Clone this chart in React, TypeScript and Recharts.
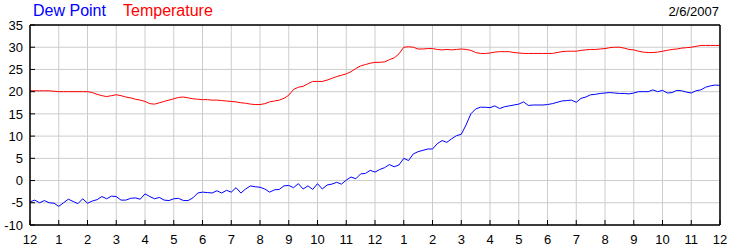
import { LineChart, Line, XAxis, YAxis, CartesianGrid } from "recharts";

// readings every 10 minutes, midnight to midnight
const temperature = [
  20.2, 20.2, 20.2, 20.2, 20.2, 20.1,
  20.0, 20.0, 20.0, 20.0, 20.0, 20.0,
  20.0, 19.8, 19.4, 19.1, 18.9, 19.1,
  19.3, 19.1, 18.8, 18.6, 18.3, 18.1,
  17.8, 17.3, 17.2, 17.5, 17.8, 18.1,
  18.4, 18.7, 18.8, 18.6, 18.4, 18.3,
  18.2, 18.2, 18.1, 18.1, 18.0, 17.9,
  17.8, 17.7, 17.5, 17.4, 17.2, 17.1,
  17.1, 17.3, 17.7, 17.9, 18.1, 18.5,
  19.2, 20.5, 21.0, 21.2, 21.8, 22.3,
  22.3, 22.3, 22.6, 23.0, 23.4, 23.7,
  24.0, 24.5, 25.2, 25.8, 26.1, 26.4,
  26.6, 26.6, 26.7, 27.2, 27.6, 28.5,
  30.0, 30.1, 30.0, 29.6, 29.6, 29.7,
  29.7, 29.5, 29.4, 29.5, 29.4, 29.5,
  29.6, 29.5, 29.3, 28.8, 28.6, 28.6,
  28.7, 28.9, 29.0, 29.0, 29.0, 28.8,
  28.7, 28.6, 28.6, 28.6, 28.6, 28.6,
  28.6, 28.6, 28.8, 29.0, 29.1, 29.1,
  29.1, 29.3, 29.4, 29.5, 29.5, 29.6,
  29.7, 29.9, 30.0, 30.0, 29.8, 29.5,
  29.4, 29.1, 28.9, 28.8, 28.8, 28.9,
  29.1, 29.3, 29.5, 29.6, 29.8, 29.9,
  30.0, 30.2, 30.4, 30.4, 30.4, 30.4,
  30.4,
];

const dewPoint = [
  -4.8, -4.4, -5.0, -4.5, -5.0, -5.1,
  -5.8, -5.0, -4.2, -4.7, -5.2, -4.1,
  -5.1, -4.6, -4.3, -3.6, -4.1, -3.5,
  -3.6, -4.4, -4.4, -4.0, -3.9, -4.2,
  -3.0, -3.6, -4.1, -3.8, -4.4, -4.5,
  -4.1, -4.0, -4.5, -4.5, -3.9, -2.8,
  -2.6, -2.7, -2.8, -2.3, -2.8, -2.2,
  -2.6, -1.6, -2.8, -1.9, -1.2, -1.4,
  -1.5, -1.9, -2.6, -2.1, -2.0, -1.2,
  -1.1, -1.6, -0.7, -1.9, -1.2, -2.0,
  -0.7, -1.9, -1.0, -0.8, -0.4, -0.8,
  0.1, 0.8, 0.4, 1.5, 1.6, 2.3,
  1.9, 2.5, 2.9, 3.6, 3.1, 3.5,
  5.0, 4.5, 6.0, 6.5, 6.8, 7.1,
  7.1, 8.3, 9.0, 8.6, 9.4, 10.1,
  10.4, 12.5, 15.0, 16.1, 16.5, 16.5,
  16.4, 16.8, 16.2, 16.6, 16.8, 17.0,
  17.2, 17.7, 16.9, 17.0, 17.0, 17.0,
  17.1, 17.3, 17.6, 17.9, 18.0, 18.1,
  17.6, 18.5, 18.8, 19.3, 19.4, 19.6,
  19.7, 19.8, 19.7, 19.6, 19.6, 19.5,
  19.7, 20.0, 20.0, 20.0, 20.4, 20.0,
  20.3, 19.7, 19.8, 20.3, 20.2, 19.9,
  19.7, 20.2, 20.4, 21.0, 21.3, 21.5,
  21.4,
];

const hourLabels = [
  "12", "1", "2", "3", "4", "5", "6", "7", "8", "9", "10", "11",
  "12", "1", "2", "3", "4", "5", "6", "7", "8", "9", "10", "11", "12",
];
const yTicks = [-10, -5, 0, 5, 10, 15, 20, 25, 30, 35];
const dateLabel = "2/6/2007";

const FONT = "'Liberation Sans', Arial, sans-serif";

export default function App() {
  const data = temperature.map((t, i) => ({
    h: i / 6,
    temp: t,
    dew: dewPoint[i],
  }));
  const xTicks = hourLabels.map((_, i) => i);
  const tickStyle = { fill: "#000", fontSize: 13, fontFamily: FONT };
  const axisLine = { stroke: "#000", strokeWidth: 1.5 };

  return (
    <div
      style={{
        position: "absolute",
        left: 0,
        top: 0,
        width: 750,
        height: 250,
        background: "#fff",
        fontFamily: FONT,
      }}
    >
      <span style={{ position: "absolute", left: 33, top: 2, fontSize: 16, color: "#0000ff" }}>
        Dew Point
      </span>
      <span style={{ position: "absolute", left: 123, top: 2, fontSize: 16, color: "#ff0000" }}>
        Temperature
      </span>
      <span style={{ position: "absolute", right: 31, top: 4, fontSize: 13, color: "#000" }}>
        {dateLabel}
      </span>
      <LineChart
        width={750}
        height={250}
        data={data}
        margin={{ top: 0, right: 0, bottom: 0, left: 0 }}
        style={{ position: "absolute", left: 0, top: 0 }}
      >
        <CartesianGrid stroke="#cccccc" strokeWidth={1} />
        <XAxis
          dataKey="h"
          type="number"
          domain={[0, 24]}
          ticks={xTicks}
          interval={0}
          height={25}
          tickFormatter={(v: number) => hourLabels[v]}
          tick={tickStyle}
          tickSize={-5}
          tickMargin={15}
          axisLine={axisLine}
          tickLine={{ stroke: "#000" }}
        />
        <XAxis
          xAxisId="top"
          orientation="top"
          dataKey="h"
          type="number"
          domain={[0, 24]}
          ticks={xTicks}
          interval={0}
          height={25}
          tick={false}
          tickSize={-5}
          axisLine={axisLine}
          tickLine={{ stroke: "#000" }}
        />
        <YAxis
          type="number"
          domain={[-10, 35]}
          ticks={yTicks}
          interval={0}
          width={30}
          tick={tickStyle}
          tickSize={-5}
          tickMargin={12}
          axisLine={axisLine}
          tickLine={{ stroke: "#000" }}
        />
        <YAxis
          yAxisId="right"
          orientation="right"
          type="number"
          domain={[-10, 35]}
          ticks={yTicks}
          interval={0}
          width={30}
          tick={tickStyle}
          tickSize={-5}
          tickMargin={12}
          axisLine={axisLine}
          tickLine={{ stroke: "#000" }}
        />
        <Line
          dataKey="temp"
          type="linear"
          stroke="#ff0000"
          strokeWidth={1}
          dot={false}
          isAnimationActive={false}
        />
        <Line
          dataKey="dew"
          type="linear"
          stroke="#0000ff"
          strokeWidth={1}
          dot={false}
          isAnimationActive={false}
        />
      </LineChart>
    </div>
  );
}
